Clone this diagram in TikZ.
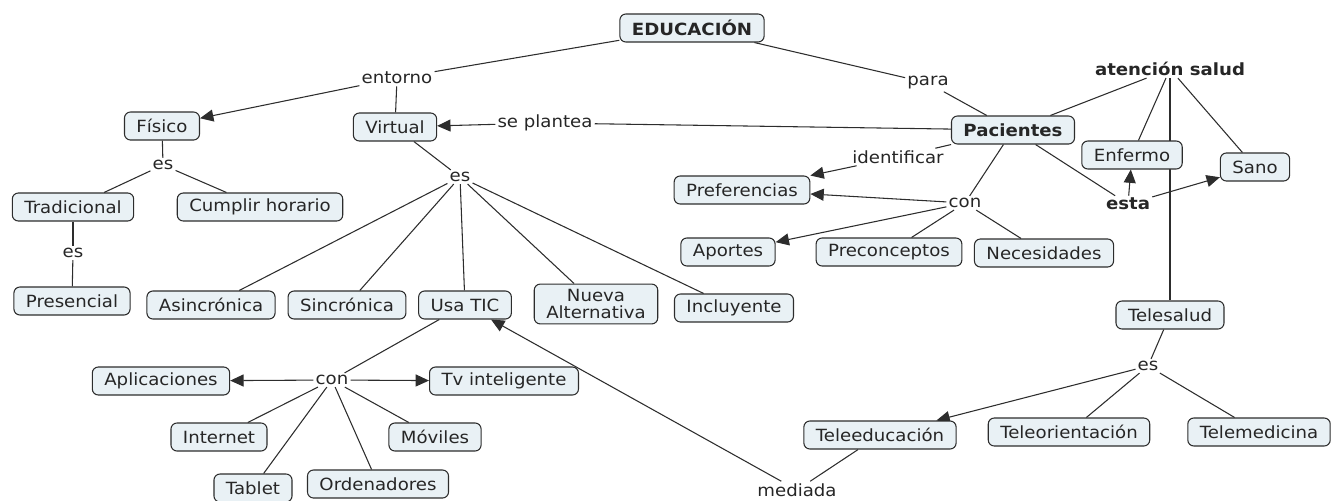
\documentclass[tikz,border=0pt]{standalone}
\usepackage{fontspec}
\setmainfont{DejaVu Sans}[FakeStretch=1.08]
\usetikzlibrary{arrows.meta, backgrounds}

\definecolor{cmapfill}{RGB}{233,241,245}
\definecolor{cmapline}{RGB}{45,45,45}

\tikzset{
  conceptbox/.style={draw=cmapline, fill=cmapfill, line width=0.8pt, rounded corners=4.5pt,
    inner xsep=9pt, inner ysep=0pt, minimum height=21pt, text=black!85,
    font=\fontsize{12.6}{12.5}\selectfont},
  linkword/.style={inner sep=1.5pt, text=black!85, font=\fontsize{12.6}{12.5}\selectfont},
  linkline/.style={line width=0.8pt, draw=cmapline},
  linkarrow/.style={linkline, -{Triangle[length=10pt,width=9pt]}},
}

\begin{document}
\begin{tikzpicture}[x=0.75pt, y=-0.75pt]
  \useasboundingbox (0,0) rectangle (1331,500);

  % Title
  \node[conceptbox] (edu) at (692,28) {\textbf{EDUCACIÓN}};

  % Entorno
  \node[linkword] (entorno) at (397,78) {entorno};
  \node[conceptbox] (fisico) at (162,126) {Físico};
  \node[conceptbox] (virtual) at (395,127) {Virtual};
  \node[linkword] (esF) at (163,165) {es};
  \node[conceptbox] (tradicional) at (73,207) {Tradicional};
  \node[conceptbox] (cumplir) at (260,207) {Cumplir horario};
  \node[linkword] (esT) at (73,253) {es};
  \node[conceptbox] (presencial) at (72,301) {Presencial};

  % Virtual
  \node[linkword] (esV) at (460,177) {es};
  \node[conceptbox] (asincronica) at (211,305) {Asincrónica};
  \node[conceptbox] (sincronica) at (347,305) {Sincrónica};
  \node[conceptbox] (usatic) at (465,305) {Usa TIC};
  \node[conceptbox, align=center, inner ysep=4pt] (nueva) at (596,304) {Nueva\\Alternativa};
  \node[conceptbox] (incluyente) at (734,308) {Incluyente};

  % TIC
  \node[linkword] (conT) at (332,380) {con};
  \node[conceptbox] (aplicaciones) at (161,381) {Aplicaciones};
  \node[conceptbox] (tv) at (504,381) {Tv inteligente};
  \node[conceptbox] (internet) at (219,437) {Internet};
  \node[conceptbox] (moviles) at (435,437) {Móviles};
  \node[conceptbox] (tablet) at (253,488) {Tablet};
  \node[conceptbox] (ordenadores) at (378,484) {Ordenadores};
  \node[linkword] (mediada) at (797,490) {mediada};

  % Pacientes
  \node[linkword] (para) at (928,83) {para};
  \node[linkword] (seplantea) at (545,123) {se plantea};
  \node[conceptbox] (pacientes) at (1013,130) {\textbf{Pacientes}};
  \node[linkword] (identificar) at (898,157) {identificar};
  \node[conceptbox] (preferencias) at (742,190) {Preferencias};
  \node[linkword] (conP) at (965,203) {con};
  \node[conceptbox] (aportes) at (728,252) {Aportes};
  \node[conceptbox] (preconceptos) at (889,252) {Preconceptos};
  \node[conceptbox] (necesidades) at (1044,253) {Necesidades};

  % Salud
  \node[linkword] (atencion) at (1170,69) {\textbf{atención salud}};
  \node[conceptbox] (enfermo) at (1132,155) {Enfermo};
  \node[conceptbox] (sano) at (1255,167) {Sano};
  \node[linkword] (esta) at (1128,204) {\textbf{esta}};
  \node[conceptbox] (telesalud) at (1170,315) {Telesalud};
  \node[linkword] (esS) at (1148,366) {es};
  \node[conceptbox] (teleeducacion) at (880,435) {Teleeducación};
  \node[conceptbox] (teleorientacion) at (1069,432) {Teleorientación};
  \node[conceptbox] (telemedicina) at (1259,432) {Telemedicina};

  % Links
  \begin{scope}[on background layer]
    \draw[linkline] (edu) -- (entorno);
    \draw[linkarrow] (entorno) -- (fisico);
    \draw[linkline] (entorno) -- (virtual);
    \draw[linkline] (fisico) -- (esF);
    \draw[linkline] (esF) -- (tradicional);
    \draw[linkline] (esF) -- (cumplir);
    \draw[linkline] (tradicional) -- (esT);
    \draw[linkline] (esT) -- (presencial);

    \draw[linkline] (virtual) -- (esV);
    \foreach \c in {asincronica, sincronica, usatic, nueva, incluyente}
      \draw[linkline] (esV) -- (\c);

    \draw[linkline] (usatic) -- (conT);
    \draw[linkarrow] (conT) -- (aplicaciones);
    \draw[linkarrow] (conT) -- (tv);
    \foreach \c in {internet, tablet, ordenadores, moviles}
      \draw[linkline] (conT) -- (\c);
    \draw[linkline] (teleeducacion) -- (mediada);
    \draw[linkarrow] (mediada) -- (usatic);

    \draw[linkline] (edu) -- (para);
    \draw[linkline] (para) -- (pacientes);
    \draw[linkline] (pacientes) -- (seplantea);
    \draw[linkarrow] (seplantea) -- (virtual);
    \draw[linkline] (pacientes) -- (identificar);
    \draw[linkarrow] (identificar) -- (preferencias);
    \draw[linkline] (pacientes) -- (conP);
    \draw[linkarrow] (conP) -- (preferencias);
    \draw[linkarrow] (conP) -- (aportes);
    \draw[linkline] (conP) -- (preconceptos);
    \draw[linkline] (conP) -- (necesidades);

    \draw[linkline] (pacientes) -- (esta);
    \draw[linkarrow] (esta) -- (enfermo);
    \draw[linkarrow] (esta) -- (sano);
    \draw[linkline] (pacientes) -- (atencion);
    \draw[linkline] (atencion) -- (enfermo);
    \draw[linkline] (atencion) -- (sano);
    \draw[linkline] (atencion) -- (telesalud);
    \draw[linkline] (telesalud) -- (esS);
    \draw[linkarrow] (esS) -- (teleeducacion);
    \draw[linkline] (esS) -- (teleorientacion);
    \draw[linkline] (esS) -- (telemedicina);
  \end{scope}
\end{tikzpicture}
\end{document}
